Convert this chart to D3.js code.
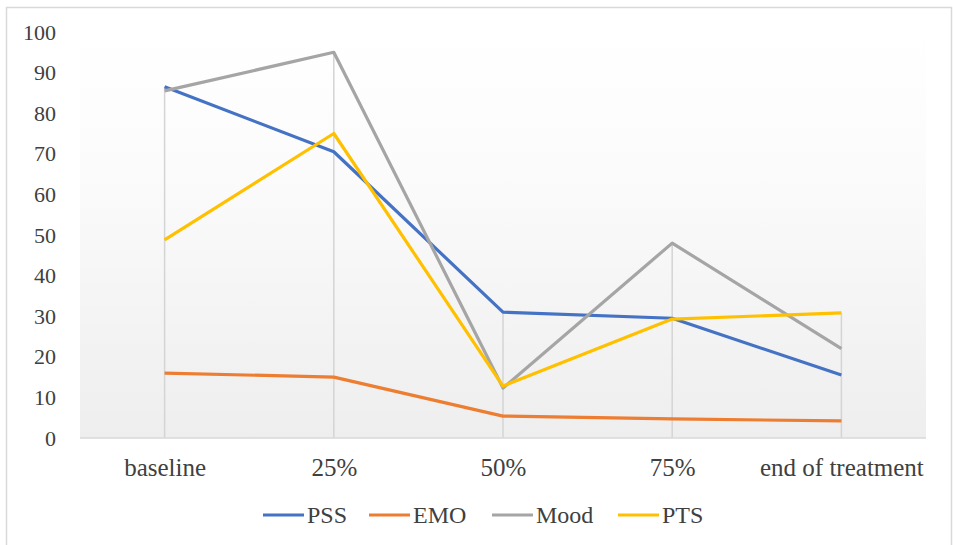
<!DOCTYPE html>
<html>
<head>
<meta charset="utf-8">
<script src="https://cdn.jsdelivr.net/npm/d3@7"></script>
<style>
  html, body { margin: 0; padding: 0; background: #ffffff; }
  svg { display: block; }
  svg text { font-family: "Liberation Serif", "Times New Roman", serif !important; fill: #404040; }
</style>
</head>
<body>
<svg id="chart" width="953" height="545"></svg>
<script>
// Time points of the treatment
const categories = ["baseline", "25%", "50%", "75%", "end of treatment"];

// Scores per scale at each time point
const seriesNames = ["PSS", "EMO", "Mood", "PTS"];
const pss  = [86.5, 70.5, 31, 29.5, 15.5];
const emo  = [16, 15, 5.4, 4.7, 4.2];
const mood = [85.5, 95, 12.3, 48, 22];
const pts  = [48.8, 75, 12.8, 29.3, 30.8];

const yTicks = [0, 10, 20, 30, 40, 50, 60, 70, 80, 90, 100];
const colors = ["#4472C4", "#ED7D31", "#A5A5A5", "#FFC000"];

const seriesValues = [pss, emo, mood, pts];
const series = seriesNames.map((name, i) => ({ name, values: seriesValues[i], color: colors[i] }));

const serif = '"Liberation Serif", "Times New Roman", serif';
const svg = d3.select("#chart");
const W = 953, H = 545;
const plot = { left: 80, right: 926, top: 32, bottom: 438 };

// Chart frame
svg.append("rect")
  .attr("x", 6.5).attr("y", 7.5)
  .attr("width", W - 8).attr("height", H)
  .attr("fill", "#ffffff")
  .attr("stroke", "#d9d9d9").attr("stroke-width", 1.5);

// Plot background: soft vertical gradient
const defs = svg.append("defs");
const grad = defs.append("linearGradient")
  .attr("id", "plotBg").attr("x1", 0).attr("y1", 0).attr("x2", 0).attr("y2", 1);
grad.append("stop").attr("offset", "0%").attr("stop-color", "#ffffff");
grad.append("stop").attr("offset", "35%").attr("stop-color", "#fbfbfb");
grad.append("stop").attr("offset", "100%").attr("stop-color", "#eeeeee");

svg.append("rect")
  .attr("x", plot.left).attr("y", plot.top)
  .attr("width", plot.right - plot.left).attr("height", plot.bottom - plot.top)
  .attr("fill", "url(#plotBg)");

const x = d3.scalePoint()
  .domain(categories)
  .range([plot.left, plot.right])
  .padding(0.5);

const y = d3.scaleLinear()
  .domain([0, 100])
  .range([plot.bottom, plot.top]);

// Drop lines from the highest value to the axis
const maxes = categories.map((c, i) => d3.max(series, s => s.values[i]));
svg.append("g")
  .selectAll("line")
  .data(categories)
  .join("line")
  .attr("x1", d => x(d)).attr("x2", d => x(d))
  .attr("y1", (d, i) => y(maxes[i]))
  .attr("y2", y(0))
  .attr("stroke", "#d4d4d4")
  .attr("stroke-width", 1.5);

// Category axis line
svg.append("line")
  .attr("x1", plot.left).attr("x2", plot.right)
  .attr("y1", y(0)).attr("y2", y(0))
  .attr("stroke", "#d9d9d9").attr("stroke-width", 1.5);

// Y axis (labels only)
const yAxis = svg.append("g")
  .attr("transform", `translate(${56},0)`)
  .call(d3.axisLeft(y).tickValues(yTicks).tickSize(0).tickPadding(0));
yAxis.attr("font-family", null);
yAxis.select(".domain").remove();
yAxis.selectAll("text")
  .style("font-family", serif)
  .style("font-size", "22px")
  .attr("fill", "#404040");

// X axis (labels only)
const xAxis = svg.append("g")
  .attr("transform", `translate(0,${y(0)})`)
  .call(d3.axisBottom(x).tickSize(0).tickPadding(20));
xAxis.attr("font-family", null);
xAxis.select(".domain").remove();
xAxis.selectAll("text")
  .style("font-family", serif)
  .style("font-size", "25px")
  .attr("fill", "#404040");

// Series lines
const line = d3.line()
  .x((d, i) => x(categories[i]))
  .y(d => y(d));

svg.append("g")
  .selectAll("path")
  .data(series)
  .join("path")
  .attr("d", d => line(d.values))
  .attr("fill", "none")
  .attr("stroke", d => d.color)
  .attr("stroke-width", 3.2)
  .attr("stroke-linejoin", "round")
  .attr("stroke-linecap", "butt");

// Legend
const legendX = [263, 369, 492, 618];
const legendY = 515;
const legend = svg.append("g")
  .selectAll("g")
  .data(series)
  .join("g")
  .attr("transform", (d, i) => `translate(${legendX[i]},${legendY})`);
legend.append("line")
  .attr("x1", 0).attr("x2", 41)
  .attr("y1", 0).attr("y2", 0)
  .attr("stroke", d => d.color)
  .attr("stroke-width", 3.2);
legend.append("text")
  .attr("x", 44).attr("y", 0)
  .attr("dy", "0.35em")
  .style("font-family", serif)
  .style("font-size", "24px")
  .text(d => d.name);
</script>
</body>
</html>
